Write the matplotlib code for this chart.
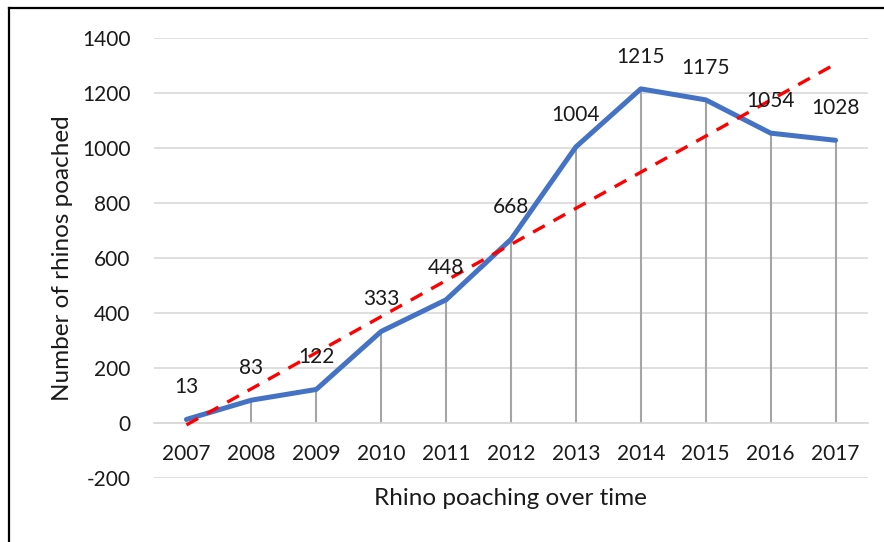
import numpy as np
import matplotlib.pyplot as plt
from matplotlib.lines import Line2D

years = ['2007', '2008', '2009', '2010', '2011', '2012', '2013', '2014', '2015', '2016', '2017']
poached = [13, 83, 122, 333, 448, 668, 1004, 1215, 1175, 1054, 1028]

plt.rcParams['font.family'] = ['Lato', 'DejaVu Sans']
plt.rcParams['axes.unicode_minus'] = False

fig = plt.figure(figsize=(8.84, 5.42), dpi=100)
ax = fig.add_axes([0.1742, 0.1181, 0.8077, 0.8118])

x = np.arange(len(years))
y = np.array(poached)

# grid
for v in range(-200, 1401, 200):
    ax.axhline(v, color='#D9D9D9', lw=1.2, zorder=0)

# drop lines
ax.vlines(x, 0, y, color='#A5A5A5', lw=1.5, zorder=1)

ax.plot(x, y, color='#4472C4', lw=3.6, solid_capstyle='round', solid_joinstyle='round', zorder=3)

# linear trendline
k, b = np.polyfit(x + 1, y, 1)
ax.plot(x, k * (x + 1) + b, color='#FF0000', lw=2.4, ls=(0, (4, 3)), zorder=4)

for xi, yi in zip(x, y):
    ax.annotate(str(yi), (xi, yi), xytext=(0, 23), textcoords='offset points',
                ha='center', va='center', fontsize=15, color='#1a1a1a', zorder=5)

ax.set_xlim(-0.5, len(years) - 0.5)
ax.set_ylim(-200, 1400)
ax.set_yticks(range(-200, 1401, 200))
ax.set_xticks(x)
ax.set_xticklabels(years)

for s in ['top', 'right', 'left']:
    ax.spines[s].set_visible(False)
ax.spines['bottom'].set_position(('data', 0))
ax.spines['bottom'].set_color('#D9D9D9')
ax.spines['bottom'].set_linewidth(1.2)
ax.tick_params(axis='x', length=0, pad=15, labelsize=15, colors='#1a1a1a')
ax.tick_params(axis='y', length=0, pad=17, labelsize=15, colors='#1a1a1a')

fig.text(0.071, 0.524, 'Number of rhinos poached', rotation=90, ha='center', va='center',
         fontsize=17.5, color='#1a1a1a')
fig.text(0.577, 0.081, 'Rhino poaching over time', ha='center', va='center',
         fontsize=17.5, color='#1a1a1a')

# outer frame (cropped at right/bottom)
fig.add_artist(Line2D([0.0098, 0.0098], [0.0, 0.985], color='black', lw=1.6, transform=fig.transFigure))
fig.add_artist(Line2D([0.0098, 1.0], [0.985, 0.985], color='black', lw=1.6, transform=fig.transFigure))

fig.savefig('out.png', dpi=100)
